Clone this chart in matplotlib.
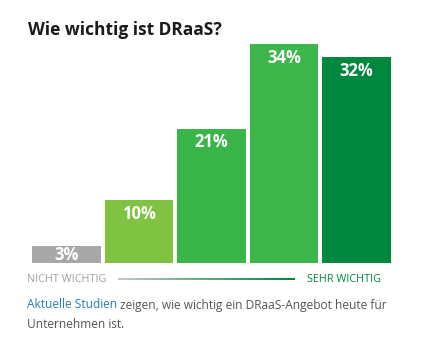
import numpy as np
import matplotlib.pyplot as plt

plt.rcParams['font.family'] = ['Open Sans', 'DejaVu Sans']

# daten
werte = [3, 10, 21, 34, 32]
labels = ["3%", "10%", "21%", "34%", "32%"]
farben = ["#a8a8a8", "#80c242", "#3ab54a", "#3db64b", "#00873e"]

W, H = 421, 349
fig = plt.figure(figsize=(W / 100, H / 100), dpi=100)

# achse in pixelkoordinaten platzieren
links, rechts, unten, oben = 32, 391, 263, 44
ax = fig.add_axes([links / W, 1 - unten / H, (rechts - links) / W, (unten - oben) / H])
x = np.arange(len(werte))
ax.bar(x, werte, width=0.95, color=farben)
ax.set_xlim(-0.475, 4.475)
ax.set_ylim(0.4, 34)
ax.axis("off")

px_pro_wert = (unten - oben) / (34 - 0.4)
for xi, w, lab in zip(x, werte, labels):
    hoehe = (w - 0.4) * px_pro_wert
    abstand = min(13.5, hoehe / 2)  # kleine balken: label mittig
    ax.annotate(lab, (xi, w), xytext=(0, -abstand * 0.72), textcoords="offset points",
                ha="center", va="center", color="white", fontsize=12, fontweight="bold")

# titel
fig.text(28 / W, 1 - 30 / H, "Wie wichtig ist DRaaS?", fontsize=12.5, fontweight="bold",
         color="#1a1a1a", va="center", ha="left")

# skala unten
fig.text(27 / W, 1 - 279 / H, "NICHT WICHTIG", fontsize=7.8, color="#a0a0a0", va="center", ha="left")
fig.text(381 / W, 1 - 279 / H, "SEHR WICHTIG", fontsize=7.8, color="#00873e", va="center", ha="right")

# farbverlauf-linie als bild
gax = fig.add_axes([118 / W, 1 - 280.5 / H, (295 - 118) / W, 3 / H])
n = 256
t = np.linspace(0, 1, n)[None, :, None]
c0 = np.array([0.78, 0.78, 0.78])
c1 = np.array([0.0, 0.53, 0.24])
gax.imshow(c0 * (1 - t) + c1 * t, aspect="auto", interpolation="bilinear")
gax.axis("off")

# fusstext
y1 = 1 - 305 / H
t1 = fig.text(27 / W, y1, "Aktuelle Studien", fontsize=8.6, color="#2a7db5", va="center", ha="left")
fig.canvas.draw()
bb = t1.get_window_extent()
fig.text(bb.x1 / W + 3 / W, y1, "zeigen, wie wichtig ein DRaaS-Angebot heute für",
         fontsize=8.6, color="#555555", va="center", ha="left")
fig.text(27 / W, 1 - 325 / H, "Unternehmen ist.", fontsize=8.6, color="#555555",
         va="center", ha="left")

fig.savefig("out.png", dpi=100)
